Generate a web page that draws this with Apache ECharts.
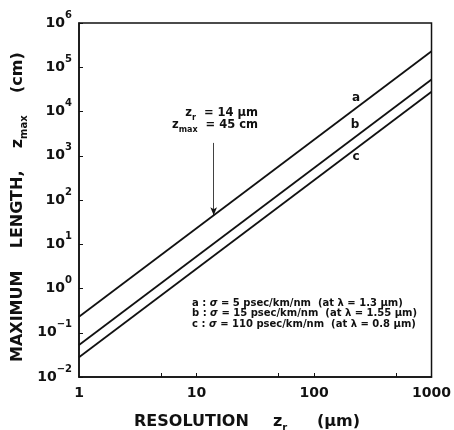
<!DOCTYPE html>
<html>
<head>
<meta charset="utf-8">
<script src="https://cdn.jsdelivr.net/npm/echarts@6/dist/echarts.min.js"></script>
<style>
  html, body { margin: 0; padding: 0; background: #fff; }
  #chart { width: 454px; height: 430px; }
</style>
</head>
<body>
<div id="chart"></div>
<script>
  // resolution z_r (um), the two ends of each line
  const resolution = [1, 1000]
  // maximum length z_max (cm) read at z_r = 1 and z_r = 1000
  const lineA = [0.23, 230000]
  const lineB = [0.053, 53000]
  const lineC = [0.028, 28000]
  // ticks on the x axis (decades plus the 5s)
  const xTickValues = [5, 10, 50, 100, 500]
  // point marked with the arrow on line a
  const markZr = 14
  const markZmax = 45
  const markArrowTop = 1950
  const legendLines = [
    ['a', '5', '1.3'],
    ['b', '15', '1.55'],
    ['c', '110', '0.8']
  ]

  const FONT = '"DejaVu Sans", sans-serif'
  const INK = '#111'

  const pairs = (ys) => resolution.map((x, i) => [x, ys[i]])

  const chart = echarts.init(document.getElementById('chart'))

  const lineSeries = (name, ys) => ({
    name: name,
    type: 'line',
    data: pairs(ys),
    showSymbol: false,
    silent: true,
    lineStyle: { color: INK, width: 1.8 }
  })

  const seriesA = lineSeries('a', lineA)
  // arrow pointing at z_r = 14 um, z_max = 45 cm
  seriesA.markLine = {
    silent: true,
    symbol: ['none', 'arrow'],
    symbolSize: [5, 8],
    label: { show: false },
    lineStyle: { color: INK, width: 0.8, type: 'solid' },
    data: [[{ coord: [markZr, markArrowTop] }, { coord: [markZr, markZmax] }]]
  }

  const txt = (x, y, text, rich, opts) => Object.assign({
    type: 'text',
    x: x,
    y: y,
    silent: true,
    style: Object.assign({
      text: text,
      rich: rich,
      fill: INK,
      font: 'bold 12px ' + FONT,
      align: 'left',
      verticalAlign: 'middle'
    }, (opts && opts.style) || {})
  }, (opts && opts.el) || {})

  const subRich = (size, subSize) => ({
    t: { fontSize: size, fontFamily: FONT, fontWeight: 'bold', color: INK, lineHeight: size + 6 },
    i: { fontSize: size, fontFamily: FONT, fontWeight: 'bold', color: INK, fontStyle: 'italic', lineHeight: size + 6 },
    s: { fontSize: subSize, fontFamily: FONT, fontWeight: 'bold', color: INK, lineHeight: subSize, verticalAlign: 'bottom' }
  })

  const graphics = [
    // y axis title, written upwards from the bottom
    txt(18, 362, '{t|MAXIMUM    LENGTH,    z}{s|max}{t|    (cm)}', subRich(16, 10),
      { el: { rotation: Math.PI / 2 }, style: { align: 'left' } }),
    // x axis title
    txt(134, 422, '{t|RESOLUTION}', subRich(16, 10)),
    txt(273, 422, '{t|z}{s|r}', subRich(16, 10)),
    txt(317, 422, '{t|(μm)}', subRich(16, 10)),
    // annotation
    txt(258, 113, '{t|z}{s|r}{t|  = 14 μm}', subRich(11.5, 8), { style: { align: 'right' } }),
    txt(258, 125, '{t|z}{s|max}{t|  = 45 cm}', subRich(11.5, 8), { style: { align: 'right' } }),
    // line names
    txt(356, 98, '{t|a}', subRich(12, 8), { style: { align: 'center' } }),
    txt(355, 125, '{t|b}', subRich(12, 8), { style: { align: 'center' } }),
    txt(356, 157, '{t|c}', subRich(12, 8), { style: { align: 'center' } })
  ]
  legendLines.forEach((l, k) => {
    graphics.push(txt(192, 303 + k * 10.5,
      '{t|' + l[0] + ' : }{i|σ}{t| = ' + l[1] + ' psec/km/nm  (at λ = ' + l[2] + ' μm)}',
      {
        t: { fontSize: 10, fontFamily: FONT, fontWeight: 'bold', color: INK, lineHeight: 10 },
        i: { fontSize: 10, fontFamily: FONT, fontWeight: 'bold', color: INK, fontStyle: 'italic', lineHeight: 10 }
      }))
  })

  const option = {
    animation: false,
    backgroundColor: '#fff',
    grid: {
      show: true,
      left: 79,
      right: 22,
      top: 23,
      bottom: 53,
      borderColor: INK,
      borderWidth: 1.5
    },
    xAxis: {
      type: 'log',
      logBase: 10,
      min: 1,
      max: 1000,
      interval: 1,
      axisLine: { show: true, lineStyle: { color: INK, width: 1.5 } },
      axisTick: { show: true, inside: true, length: 4, lineStyle: { color: INK, width: 1 }, customValues: xTickValues },
      splitLine: { show: false },
      axisLabel: {
        color: INK,
        fontFamily: FONT,
        fontWeight: 'bold',
        fontSize: 14,
        margin: 9,
        formatter: (v) => String(Math.round(v))
      }
    },
    yAxis: {
      type: 'log',
      logBase: 10,
      min: 0.01,
      max: 1000000,
      interval: 1,
      axisLine: { show: true, lineStyle: { color: INK, width: 1.5 } },
      axisTick: { show: true, inside: true, length: 4, lineStyle: { color: INK, width: 1 } },
      splitLine: { show: false },
      axisLabel: {
        margin: 7,
        formatter: (v) => {
          const e = Math.round(Math.log10(v))
          return '{b|10}{e|' + (e < 0 ? '\u2212' + (-e) : e) + '}'
        },
        rich: {
          b: { fontSize: 14, fontFamily: FONT, fontWeight: 'bold', color: INK, lineHeight: 26 },
          e: { fontSize: 10, fontFamily: FONT, fontWeight: 'bold', color: INK, lineHeight: 12, verticalAlign: 'top' }
        }
      }
    },
    graphic: graphics,
    series: [seriesA, lineSeries('b', lineB), lineSeries('c', lineC)]
  }

  option && chart.setOption(option)
</script>
</body>
</html>
